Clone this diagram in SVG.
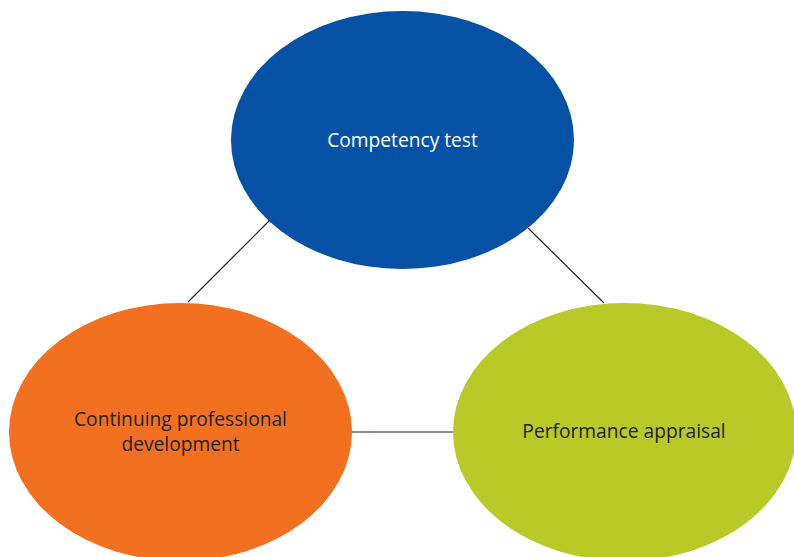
<svg xmlns="http://www.w3.org/2000/svg" width="794" height="557" viewBox="0 0 794 557">
  <style>
    .link { stroke: #231f20; stroke-width: 1.2; fill: none; }
    .label { font-family: "Open Sans", "Noto Sans", "Liberation Sans", sans-serif; font-size: 19.2px; text-anchor: middle; }
    .dark { fill: #231f20; }
    .light { fill: #ffffff; }
  </style>
  <rect width="794" height="557" fill="#ffffff"/>
  <g id="connectors">
    <line class="link" x1="270" y1="220" x2="188" y2="302"/>
    <line class="link" x1="528" y1="228" x2="604" y2="303"/>
    <line class="link" x1="350" y1="432" x2="455" y2="432"/>
  </g>
  <g id="competency-test">
    <ellipse cx="402.5" cy="140" rx="171.5" ry="129" fill="#0451a5"/>
    <text class="label light" x="402.5" y="146.5">Competency test</text>
  </g>
  <g id="continuing-professional-development">
    <ellipse cx="180.5" cy="432" rx="171.5" ry="129" fill="#f37021"/>
    <text class="label dark" x="180.5" y="426">Continuing professional</text>
    <text class="label dark" x="180.5" y="451">development</text>
  </g>
  <g id="performance-appraisal">
    <ellipse cx="624.5" cy="432" rx="171.5" ry="129" fill="#b8c928"/>
    <text class="label dark" x="624" y="438">Performance appraisal</text>
  </g>
</svg>
